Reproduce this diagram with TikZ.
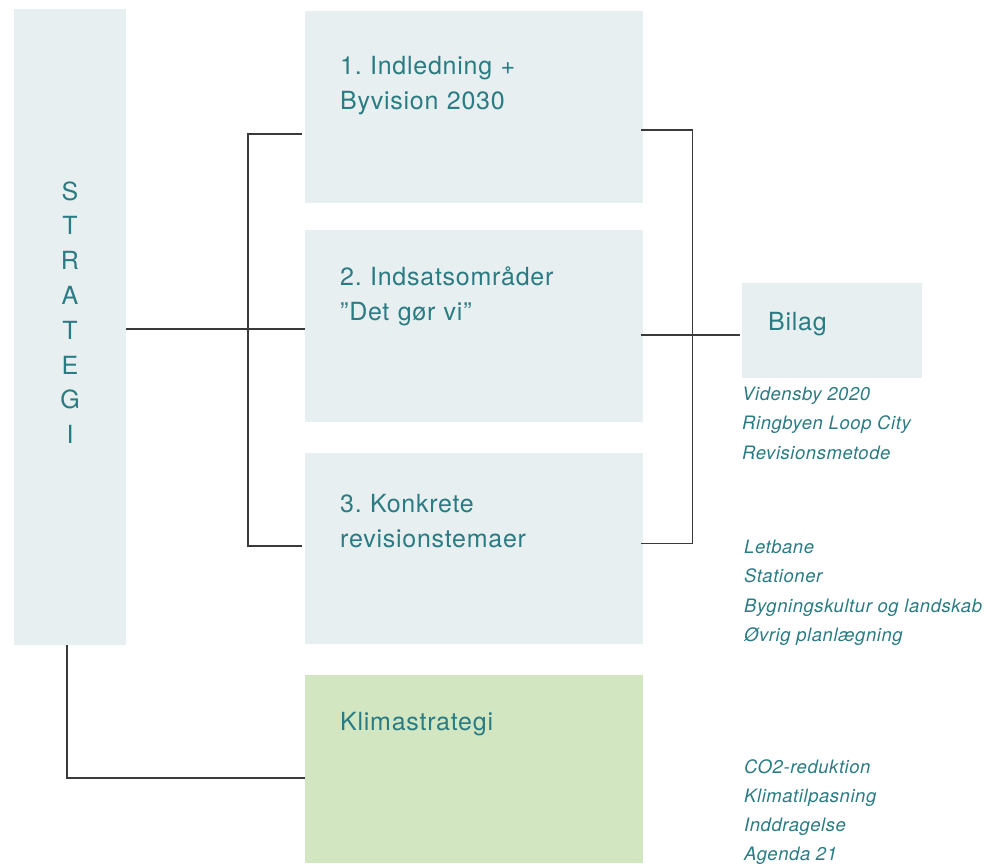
\documentclass[tikz,border=0pt]{standalone}
\usepackage{fontspec}
\setmainfont{TeX Gyre Heros}[LetterSpace=3]
\usetikzlibrary{positioning}
\frenchspacing

\definecolor{panelblue}{HTML}{E7EFF1}
\definecolor{panelgreen}{HTML}{D3E6C2}
\definecolor{tealtext}{HTML}{2A7B82}
\definecolor{linegray}{HTML}{3A3A3A}

\tikzset{
	panel/.style={fill=panelblue, inner sep=0pt, outer sep=0pt, anchor=north west},
	heading/.style={text=tealtext, font=\fontsize{25}{35}\selectfont, align=left, text width=320pt, inner sep=0pt, anchor=base west},
	item/.style={text=tealtext, font=\fontsize{18.5}{29.5}\selectfont\itshape, inner sep=0pt, anchor=base west},
	link/.style={draw=linegray, line width=1.4pt}
}

\begin{document}
\begin{tikzpicture}[x=1pt, y=-1pt]

\useasboundingbox (0,0) rectangle (997,863);

\node(strategi) [panel, minimum width=112pt, minimum height=635.6pt] at (14,9) {};
\node [text=tealtext, font=\fontsize{25}{34.8}\selectfont, align=center, text width=40pt, inner sep=0pt, anchor=base] at (70,200) {S\\T\\R\\A\\T\\E\\G\\I};

\node(indledning) [panel, minimum width=338pt, minimum height=192pt] at (305,11) {};
\node [heading] at (340,74.5) {1. Indledning +\\Byvision 2030};

\node(indsats) [panel, minimum width=338pt, minimum height=192pt] at (305,230) {};
\node [heading] at (340,285) {2. Indsatsområder\\”Det gør vi”};

\node(konkrete) [panel, minimum width=338pt, minimum height=191pt] at (305,453) {};
\node [heading] at (340,512) {3. Konkrete\\revisionstemaer};

\node(klima) [panel, fill=panelgreen, minimum width=338pt, minimum height=188pt] at (305,675) {};
\node [heading] at (340,730) {Klimastrategi};

\node(bilag) [panel, minimum width=180pt, minimum height=95pt] at (742,282.7) {};
\node [heading] at (768,330.5) {Bilag};

\foreach \txt [count=\i] in {Vidensby 2020, Ringbyen Loop City, Revisionsmetode}
	\node(bilagitem-\i) [item] at (742,400+29.5*\i-29.5) {\txt};

\foreach \txt [count=\i] in {Letbane, Stationer, Bygningskultur og landskab, Øvrig planlægning}
	\node(temaitem-\i) [item] at (744,553+29.5*\i-29.5) {\txt};

\foreach \txt [count=\i] in {CO2-reduktion, Klimatilpasning, Inddragelse, Agenda 21}
	\node(klimaitem-\i) [item] at (744,773+29.2*\i-29.2) {\txt};

\coordinate(mid) at (248,329);
\coordinate(lefttop) at (248,134);
\coordinate(leftbot) at (248,546);
\coordinate(righttop) at (692.5,130);
\coordinate(rightbot) at (692.5,543.3);
\coordinate(bilagin) at (692.5,335);
\coordinate(klimain) at (67,778);

\draw [link] (strategi.east |- mid) -- (indsats.west |- mid);
\draw [link] ([xshift=-3.5pt]indledning.west |- lefttop) -- (lefttop) -- (leftbot) -- ([xshift=-3pt]konkrete.west |- leftbot);
\draw [link] ([xshift=-2pt]indledning.east |- righttop) -- (righttop) -- (rightbot) -- ([xshift=-2pt]konkrete.east |- rightbot);
\draw [link] ([xshift=-2pt]indsats.east |- bilagin) -- ([xshift=-2pt]bilag.west |- bilagin);
\draw [link] (strategi.south -| klimain) -- (klimain) -- (klima.west |- klimain);

\end{tikzpicture}
\end{document}
